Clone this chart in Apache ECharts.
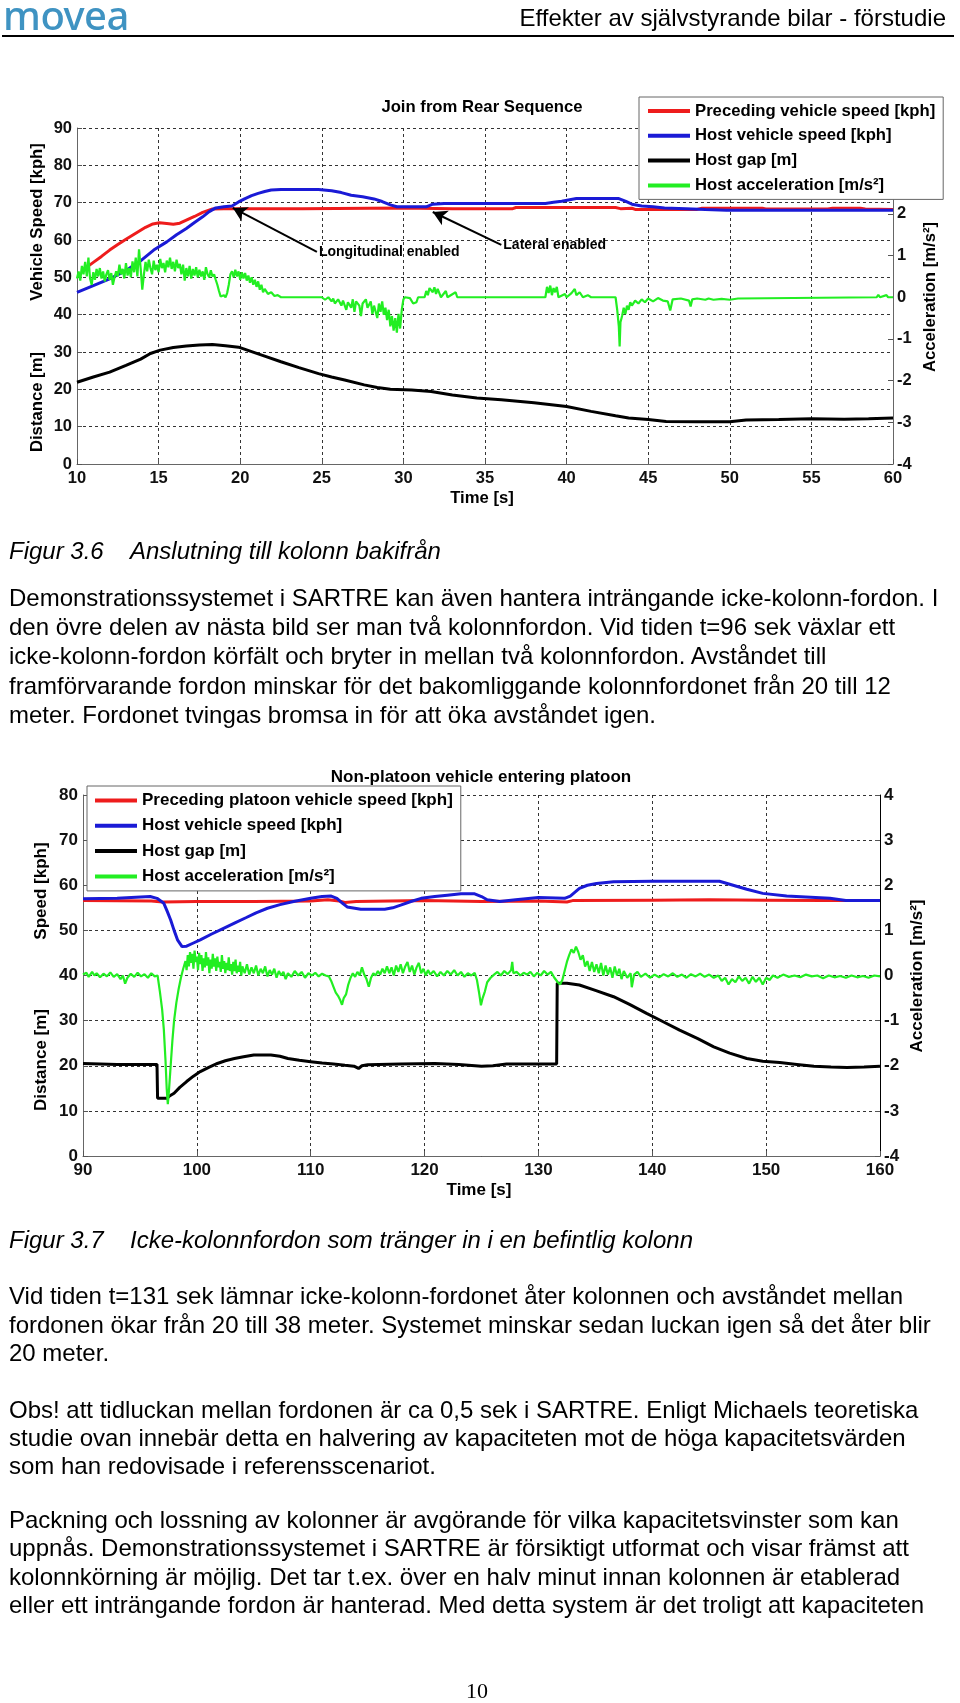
<!DOCTYPE html>
<html>
<head>
<meta charset="utf-8">
<script src="https://cdn.jsdelivr.net/npm/echarts@6/dist/echarts.min.js"></script>
<style>
html,body{margin:0;padding:0;background:#fff;}
#page{position:relative;width:960px;height:1703px;background:#fff;overflow:hidden;}
#chart{position:absolute;left:0;top:0;width:960px;height:1703px;}
.t{position:absolute;left:9px;font-family:"Liberation Sans",Arial,sans-serif;font-size:24px;line-height:28px;color:#000;white-space:nowrap;z-index:2;}
.i{font-style:italic;}
</style>
</head>
<body>
<div id="page">
<div id="chart"></div>
</div>
<script>
// ---------------- DATA ----------------
// Figure 3.6 : Join from Rear Sequence  ([time s, value])
var c1Title = 'Join from Rear Sequence';
var c1Names = ['Preceding vehicle speed [kph]', 'Host vehicle speed [kph]', 'Host gap [m]', 'Host acceleration [m/s\u00B2]'];
var c1Preceding = [[10.5,52.4],[11,54],[11.5,55.6],[12,57.3],[12.5,58.8],[13,60.2],[13.6,61.8],[14.2,63.4],[14.65,64.3],[15.05,64.6],[15.5,64.4],[15.9,64.2],[16.3,64.5],[16.7,65.3],[17.2,66.3],[17.7,67.4],[18.3,68.3],[19,68.4],[20,68.4],[23.8,68.4],[23.9,68.6],[30,68.6],[31,68.5],[33,68.4],[36.7,68.4],[36.9,68.7],[43,68.7],[43.3,68.4],[44,68.5],[44.2,68.2],[48,68.2],[48.3,68.5],[52,68.5],[52.2,68.3],[56,68.3],[56.3,68.5],[58,68.5],[58.3,68.3],[60,68.2]];
var c1HostSpeed = [[10,46],[11,47.8],[12,49.6],[13,51.8],[13.95,54.6],[14.7,57.3],[15.5,59.5],[16.1,61.4],[16.7,63.1],[17.2,64.7],[17.7,66.2],[18.1,67.6],[18.5,68.6],[19,68.9],[19.5,69.1],[19.9,70.2],[20.3,71.1],[20.7,71.9],[21.1,72.5],[21.5,73.0],[21.9,73.4],[22.5,73.5],[24.8,73.5],[25.6,73.2],[26.2,72.7],[26.8,72.0],[27.5,71.6],[28.2,71.0],[28.7,70.3],[29.2,69.4],[29.6,68.9],[31.4,68.9],[31.8,69.6],[32.5,69.8],[38.7,69.8],[39.2,70.1],[39.7,70.4],[40.6,71.1],[43.2,71.1],[43.6,70.4],[44.0,69.6],[44.6,69.1],[45.3,68.9],[46,68.6],[47.3,68.4],[48.5,68.2],[49.8,68.0],[60,68.0]];
var c1Gap = [[10,21.9],[11,23.3],[12,24.6],[13,26.4],[13.9,28.1],[14.5,29.6],[15.1,30.5],[15.9,31.2],[16.7,31.6],[17.5,31.9],[18.3,32.0],[19.1,31.7],[19.9,31.3],[20.7,30.1],[21.5,28.9],[22.5,27.4],[23.6,25.8],[24.8,24.2],[25.6,23.3],[26.4,22.5],[27.6,21.2],[28.4,20.5],[29.2,20.0],[30.5,19.8],[31.7,19.4],[33,18.5],[34.5,17.7],[36,17.2],[38,16.4],[40,15.4],[41.5,14.1],[43,12.9],[43.8,12.3],[45,11.9],[46.1,11.4],[48,11.3],[50,11.3],[51,11.8],[53,11.9],[55,12.1],[57,12.0],[58.5,12.1],[60,12.3]];
var c1Accel = [[10.0,0.45],[10.1,0.62],[10.2,0.4],[10.3,0.75],[10.4,0.55],[10.5,0.85],[10.6,0.5],[10.7,0.95],[10.8,0.45],[10.9,0.3],[11.0,0.6],[11.1,0.42],[11.2,0.68],[11.3,0.5],[11.4,0.7],[11.5,0.45],[11.6,0.62],[11.7,0.38],[11.8,0.55],[11.9,0.65],[12.0,0.42],[12.1,0.58],[12.2,0.3],[12.3,0.48],[12.4,0.62],[12.5,0.5],[12.6,0.78],[12.7,0.55],[12.8,0.68],[12.9,0.45],[13.0,0.82],[13.1,0.52],[13.2,0.7],[13.3,0.48],[13.4,0.86],[13.5,0.6],[13.6,0.95],[13.7,0.5],[13.8,1.15],[13.9,0.7],[14.0,0.18],[14.1,0.55],[14.2,0.85],[14.3,0.62],[14.4,0.9],[14.5,0.7],[14.6,0.55],[14.7,0.88],[14.8,0.65],[14.9,0.78],[15.0,0.6],[15.1,0.92],[15.2,0.7],[15.3,0.82],[15.4,0.6],[15.5,0.88],[15.6,0.72],[15.7,0.95],[15.8,0.68],[15.9,0.85],[16.0,0.62],[16.1,0.9],[16.2,0.7],[16.3,0.8],[16.4,0.55],[16.5,0.78],[16.6,0.4],[16.7,0.7],[16.8,0.5],[16.9,0.75],[17.0,0.45],[17.1,0.68],[17.2,0.52],[17.3,0.72],[17.4,0.48],[17.5,0.66],[17.6,0.5],[17.7,0.62],[17.8,0.42],[17.9,0.72],[18.0,0.55],[18.1,0.48],[18.2,0.65],[18.3,0.5],[18.4,0.55],[18.5,0.42],[18.6,0.3],[18.7,0.15],[18.8,0.02],[18.9,0.0],[19.0,0.05],[19.1,0.0],[19.2,0.1],[19.3,0.3],[19.4,0.55],[19.5,0.62],[19.6,0.48],[19.7,0.66],[19.8,0.5],[19.9,0.62],[20.0,0.42],[20.1,0.6],[20.2,0.45],[20.3,0.58],[20.4,0.4],[20.5,0.52],[20.6,0.35],[20.7,0.48],[20.8,0.3],[20.9,0.42],[21.0,0.25],[21.1,0.38],[21.2,0.18],[21.3,0.3],[21.4,0.12],[21.5,0.2],[21.7,0.08],[21.9,0.12],[22.1,0.03],[22.3,0.05],[22.5,0],[25.0,0],[25.2,-0.06],[25.4,0.0],[25.6,-0.1],[25.7,-0.03],[25.8,-0.15],[26.0,-0.05],[26.2,-0.2],[26.3,-0.08],[26.5,-0.3],[26.6,-0.12],[26.8,-0.25],[26.9,-0.05],[27.0,-0.35],[27.1,-0.1],[27.3,-0.2],[27.4,-0.45],[27.5,-0.15],[27.7,-0.05],[27.8,-0.25],[28.0,-0.1],[28.1,-0.4],[28.2,-0.2],[28.4,-0.5],[28.5,-0.15],[28.6,-0.35],[28.7,-0.1],[28.8,-0.42],[28.9,-0.25],[29.0,-0.55],[29.1,-0.3],[29.2,-0.7],[29.3,-0.45],[29.4,-0.8],[29.5,-0.5],[29.6,-0.85],[29.7,-0.4],[29.8,-0.75],[29.9,-0.3],[30.0,-0.05],[30.1,0],[30.4,-0.02],[30.6,-0.15],[30.8,-0.12],[30.9,0],[31.3,0],[31.4,0.15],[31.5,0.05],[31.6,0.22],[31.8,0.12],[31.9,0.24],[32.0,0.08],[32.1,0.2],[32.3,0.0],[32.6,0.15],[32.7,0.0],[33.2,0.12],[33.3,0.0],[38.7,0],[38.8,0.25],[38.9,0.1],[39.0,0.28],[39.1,0.05],[39.2,0.22],[39.3,0.12],[39.4,0.25],[39.5,0.0],[39.9,0.08],[40.0,0.0],[40.3,0.1],[40.5,0.2],[40.6,0.05],[40.8,0.12],[41.0,0.0],[41.3,0.05],[41.5,0.0],[43.0,0],[43.1,-0.3],[43.2,-0.7],[43.25,-1.18],[43.3,-0.6],[43.4,-0.45],[43.5,-0.25],[43.6,-0.4],[43.7,-0.2],[43.8,-0.3],[43.9,-0.12],[44.0,-0.2],[44.2,-0.08],[44.4,-0.15],[44.6,-0.05],[44.8,-0.12],[45.0,-0.03],[45.3,-0.1],[45.6,-0.02],[45.9,-0.08],[46.2,-0.1],[46.35,-0.32],[46.5,-0.05],[47.0,-0.03],[47.5,-0.08],[47.6,-0.22],[47.7,-0.05],[48.0,-0.03],[48.5,-0.06],[48.7,-0.03],[49,-0.06],[49.5,-0.04],[50.0,-0.06],[50.5,-0.03],[50.6,0],[59.0,0],[59.1,0.06],[59.2,0],[59.6,0.05],[59.7,0],[60,0]];
// annotation arrows: [text, start [t,v], tip [t,v]]
var c1Notes = [['Longitudinal enabled',[24.7,56.8],[19.55,68.6]],['Lateral enabled',[36.0,58.7],[31.8,67.5]]];

// Figure 3.7 : Non-platoon vehicle entering platoon
var c2Title = 'Non-platoon vehicle entering platoon';
var c2Names = ['Preceding platoon vehicle speed [kph]', 'Host vehicle speed [kph]', 'Host gap [m]', 'Host acceleration [m/s\u00B2]'];
var c2Preceding = [[90,56.6],[96,56.5],[97,56.3],[100,56.4],[105,56.4],[110,56.5],[111.5,56.8],[112.5,56.5],[113,56.2],[114,56.4],[120,56.6],[125,56.4],[130,56.5],[132.5,56.3],[133,56.6],[140,56.7],[145,56.8],[150,56.7],[155,56.6],[160,56.6]];
var c2HostSpeed = [[90,57.0],[93,57.1],[95.9,57.5],[96.5,57.1],[97.1,56.0],[97.4,54.2],[97.7,52.3],[98.0,50.0],[98.3,47.9],[98.7,46.4],[99.1,46.5],[99.7,47.2],[100.3,47.9],[101.3,49.2],[102.3,50.4],[103.3,51.6],[104.3,52.8],[105.2,53.9],[106.2,54.9],[107.3,55.7],[108.5,56.4],[110,57.1],[111,57.5],[111.8,57.6],[112.3,57.1],[112.8,56.0],[113.2,55.2],[114.4,54.7],[116.5,54.7],[117.2,55.0],[117.9,55.6],[118.8,56.4],[119.7,57.1],[120.9,57.5],[122,57.8],[123.2,58.1],[124.4,58.1],[125,57.5],[125.5,56.8],[126.6,56.4],[128,56.8],[130,57.3],[132.3,57.1],[132.8,57.6],[133.6,59.3],[134.3,60.0],[135.1,60.4],[136.6,60.8],[140,60.9],[145.9,60.9],[147.1,60.0],[148.3,59.1],[149.7,58.2],[151.8,57.6],[155.6,57.1],[157,56.6],[160,56.6]];
var c2Gap = [[90,20.5],[93,20.3],[96.5,20.3],[96.55,12.8],[97.4,12.8],[97.6,13.3],[98,13.9],[98.5,15.2],[99.1,16.5],[99.7,17.7],[100.3,18.7],[101,19.6],[101.8,20.5],[102.5,21.1],[103.3,21.6],[104.1,22.0],[105,22.4],[106.5,22.4],[107.3,22.1],[108,21.6],[109,21.2],[110,20.9],[111,20.6],[112,20.4],[113,20.1],[113.8,19.9],[114.2,19.4],[114.5,20.0],[115,20.2],[117.9,20.4],[120.9,20.5],[123,20.3],[125,19.9],[126,20.0],[127.2,20.4],[131.6,20.4],[131.65,38.3],[132.5,38.3],[133.6,37.9],[135,36.7],[136.6,35.3],[138,33.6],[139.5,31.6],[141,29.7],[142.4,27.9],[144,26.0],[145.4,24.2],[146.8,22.8],[148.3,21.6],[149.7,21.0],[151.2,20.7],[152.7,20.3],[154.2,19.9],[155.7,19.7],[157.1,19.6],[158.6,19.7],[160,19.9]];
var c2Accel = [[90,0.02],[90.3,0.06],[90.5,-0.03],[90.8,0.08],[91.0,0.0],[91.2,0.05],[91.5,-0.04],[91.8,0.04],[92.1,-0.02],[92.4,0.07],[92.7,-0.03],[93.0,0.03],[93.3,-0.08],[93.5,0.0],[93.7,-0.18],[93.9,-0.05],[94.2,0.04],[94.5,-0.03],[94.8,0.06],[95.1,-0.02],[95.4,0.03],[95.7,-0.05],[96.0,0.05],[96.3,-0.02],[96.55,0.0],[96.75,-0.35],[96.95,-0.75],[97.1,-1.2],[97.25,-1.9],[97.35,-2.5],[97.45,-2.85],[97.55,-2.55],[97.7,-2.0],[97.85,-1.45],[98.0,-1.0],[98.2,-0.6],[98.4,-0.3],[98.6,-0.05],[98.8,0.15],[99.0,0.32],[99.1,0.12],[99.2,0.45],[99.3,0.2],[99.4,0.52],[99.5,0.28],[99.6,0.48],[99.7,0.15],[99.8,0.55],[99.9,0.3],[100.0,0.42],[100.1,0.12],[100.2,0.5],[100.3,0.25],[100.4,0.45],[100.5,0.1],[100.6,0.38],[100.7,0.18],[100.8,0.52],[100.9,0.22],[101.0,0.4],[101.1,0.05],[101.2,0.35],[101.3,0.15],[101.4,0.48],[101.5,0.2],[101.6,0.38],[101.7,0.1],[101.8,0.42],[101.9,0.18],[102.0,0.3],[102.1,0.08],[102.2,0.45],[102.3,0.15],[102.4,0.32],[102.5,0.05],[102.6,0.28],[102.7,0.12],[102.8,0.4],[102.9,0.1],[103.0,0.25],[103.1,0.02],[103.2,0.3],[103.3,0.1],[103.4,0.35],[103.5,0.05],[103.6,0.22],[103.7,0.08],[103.8,0.3],[103.9,0.0],[104.0,0.2],[104.2,0.05],[104.4,0.25],[104.6,0.02],[104.8,0.18],[105.0,0.05],[105.2,0.22],[105.4,0.0],[105.6,0.15],[105.8,0.05],[106.0,0.2],[106.2,-0.02],[106.4,0.12],[106.6,0.02],[106.8,0.15],[107.0,-0.05],[107.2,0.1],[107.4,0.0],[107.6,0.08],[107.8,-0.08],[108.0,0.05],[108.3,-0.03],[108.6,0.1],[108.9,0.0],[109.2,0.08],[109.5,-0.05],[109.8,0.05],[110.1,0.0],[110.4,0.06],[110.7,-0.02],[111.0,0.04],[111.3,0.0],[111.6,-0.02],[111.8,-0.12],[112.0,-0.25],[112.2,-0.38],[112.4,-0.45],[112.6,-0.55],[112.75,-0.65],[112.9,-0.5],[113.1,-0.42],[113.3,-0.2],[113.5,-0.05],[113.7,0.05],[113.9,-0.03],[114.1,0.08],[114.3,0.0],[114.5,0.18],[114.7,0.02],[114.9,-0.08],[115.1,-0.25],[115.3,-0.05],[115.5,0.05],[115.7,0.0],[115.9,0.1],[116.1,0.02],[116.3,0.15],[116.5,0.05],[116.7,0.2],[116.9,0.05],[117.1,0.18],[117.3,0.0],[117.5,0.22],[117.7,0.08],[117.9,0.25],[118.1,0.05],[118.3,0.2],[118.5,0.3],[118.7,0.08],[118.9,0.22],[119.1,0.02],[119.3,0.18],[119.5,0.28],[119.7,0.05],[119.9,0.15],[120.1,0.0],[120.3,0.12],[120.5,0.02],[120.8,0.1],[121.1,-0.02],[121.4,0.08],[121.7,0.0],[122.0,0.1],[122.3,0.02],[122.6,0.12],[122.9,0.0],[123.2,0.08],[123.5,-0.03],[123.8,0.05],[124.1,0.0],[124.4,0.06],[124.6,-0.1],[124.8,-0.4],[124.95,-0.66],[125.1,-0.5],[125.3,-0.35],[125.5,-0.15],[125.8,-0.05],[126.1,0.02],[126.4,0.08],[126.7,0.0],[127.0,0.1],[127.3,0.03],[127.6,0.12],[127.7,0.3],[127.8,0.05],[128.1,0.08],[128.4,0.0],[128.7,0.06],[129.0,0.02],[129.3,0.08],[129.6,-0.02],[129.9,0.06],[130.2,0.0],[130.5,0.1],[130.8,0.02],[131.1,0.08],[131.4,-0.05],[131.7,-0.15],[131.9,-0.2],[132.1,-0.1],[132.3,0.1],[132.5,0.3],[132.7,0.45],[132.9,0.58],[133.1,0.5],[133.3,0.64],[133.5,0.52],[133.7,0.35],[133.9,0.45],[134.1,0.2],[134.3,0.32],[134.5,0.1],[134.7,0.3],[134.9,0.08],[135.1,0.25],[135.3,0.05],[135.5,0.28],[135.7,0.0],[135.9,0.22],[136.1,0.02],[136.3,0.18],[136.5,-0.05],[136.7,0.2],[136.9,0.0],[137.1,0.15],[137.3,-0.08],[137.5,0.1],[137.8,-0.05],[138.1,0.05],[138.2,-0.26],[138.4,0.02],[138.7,0.08],[139.0,-0.03],[139.4,0.04],[139.8,-0.05],[140.2,0.02],[140.6,-0.04],[141.0,0.03],[141.4,-0.02],[141.8,0.05],[142.2,-0.03],[142.6,0.02],[143.0,-0.05],[143.4,0.03],[143.8,-0.02],[144.2,0.04],[144.6,-0.03],[145.0,0.02],[145.4,-0.05],[145.8,0.0],[146.1,-0.12],[146.4,-0.05],[146.7,-0.2],[147.0,-0.08],[147.3,-0.15],[147.6,-0.02],[147.9,-0.12],[148.2,-0.05],[148.5,-0.18],[148.8,-0.03],[149.1,-0.14],[149.4,-0.05],[149.7,-0.2],[150.0,-0.05],[150.3,-0.1],[150.6,0.0],[151.0,-0.05],[151.5,0.02],[152.0,-0.03],[152.5,0.0],[153.0,-0.04],[153.5,0.02],[154.0,-0.02],[154.5,0.0],[155.0,-0.06],[155.5,0.0],[156.0,-0.04],[156.5,-0.01],[157.0,-0.05],[157.5,0.0],[158.0,-0.04],[158.5,-0.01],[159.0,-0.05],[159.5,0.0],[160,-0.02]];

// page text
var headerTitle = 'Effekter av självstyrande bilar - förstudie';
var caption1 = ['Figur 3.6', 'Anslutning till kolonn bakifrån'];
var caption2 = ['Figur 3.7', 'Icke-kolonnfordon som tränger in i en befintlig kolonn'];
var para1 = ['Demonstrationssystemet i SARTRE kan även hantera inträngande icke-kolonn-fordon. I','den övre delen av nästa bild ser man två kolonnfordon. Vid tiden t=96 sek växlar ett','icke-kolonn-fordon körfält och bryter in mellan två kolonnfordon. Avståndet till','framförvarande fordon minskar för det bakomliggande kolonnfordonet från 20 till 12','meter. Fordonet tvingas bromsa in för att öka avståndet igen.'];
var para2 = ['Vid tiden t=131 sek lämnar icke-kolonn-fordonet åter kolonnen och avståndet mellan','fordonen ökar från 20 till 38 meter. Systemet minskar sedan luckan igen så det åter blir','20 meter.'];
var para3 = ['Obs! att tidluckan mellan fordonen är ca 0,5 sek i SARTRE. Enligt Michaels teoretiska','studie ovan innebär detta en halvering av kapaciteten mot de höga kapacitetsvärden','som han redovisade i referensscenariot.'];
var para4 = ['Packning och lossning av kolonner är avgörande för vilka kapacitetsvinster som kan','uppnås. Demonstrationssystemet i SARTRE är försiktigt utformat och visar främst att','kolonnkörning är möjlig. Det tar t.ex. över en halv minut innan kolonnen är etablerad','eller ett inträngande fordon är hanterad. Med detta system är det troligt att kapaciteten'];

// ---------------- PAGE TEXT (HTML) ----------------
var page = document.getElementById('page');
function addDiv(txt, cls, css){
  var d = document.createElement('div');
  d.className = cls; d.textContent = txt; d.style.cssText = css; page.appendChild(d); return d;
}
function lines(arr, y0, step){ arr.forEach(function(s,i){ addDiv(s,'t','top:'+(y0+i*step-14)+'px;'); }); }
addDiv('movea','t','left:3px;top:-5px;font-family:"Noto Sans",sans-serif;font-weight:500;font-size:40px;line-height:40px;color:#3f93c2;letter-spacing:-0.5px;');
addDiv(headerTitle,'t','left:auto;right:14px;top:4px;');
addDiv('','t','left:2px;top:35px;width:952px;height:2px;background:#000;');
addDiv(caption1[0],'t i','top:'+(551-14)+'px;');
addDiv(caption1[1],'t i','left:130px;top:'+(551-14)+'px;');
lines(para1, 598, 29.2);
addDiv(caption2[0],'t i','top:'+(1240-14)+'px;');
addDiv(caption2[1],'t i','left:130px;top:'+(1240-14)+'px;');
lines(para2, 1296, 28.7);
lines(para3, 1410, 28.2);
lines(para4, 1520, 28.4);
addDiv('10','t','left:466px;top:'+(1691-14)+'px;font-family:"Liberation Serif","Times New Roman",serif;font-size:22px;');

// ---------------- CHARTS ----------------
var F = '"Liberation Sans", Arial, sans-serif';
var RED = '#ee1c1c', BLUE = '#1a1ad6', BLACK = '#000000', GREEN = '#22ee22';

function axisCommon(fs, fw){
  return {
    axisLine:{show:true, lineStyle:{color:'#666', width:1}},
    axisTick:{show:true, inside:true, length:5, lineStyle:{color:'#555'}},
    axisLabel:{color:'#111', fontSize:fs, fontWeight:fw, fontFamily:F, hideOverlap:false},
    splitLine:{show:true, lineStyle:{type:[3,3], color:'#333', width:1}}
  };
}
function mk(o, extra){ var r = JSON.parse(JSON.stringify(o)); for (var k in extra){ if (typeof extra[k]==='object' && r[k] && !Array.isArray(extra[k])) { for (var j in extra[k]) r[k][j]=extra[k][j]; } else r[k]=extra[k]; } return r; }

var a1 = axisCommon(16.5,'bold');
var a2 = axisCommon(17,'bold');

function lineSeries(name, data, color, width, xi, yi){
  return {name:name, type:'line', data:data, xAxisIndex:xi, yAxisIndex:yi, color:color,
    showSymbol:false, symbol:'none', lineStyle:{color:color, width:width}, silent:true, z:2};
}

var s1red = lineSeries(c1Names[0], c1Preceding, RED, 3, 0, 0);
s1red.markLine = {
  silent:true, symbol:['none','arrow'], symbolSize:[12,14], animation:false,
  lineStyle:{color:'#000', width:2, type:'solid'}, label:{show:false},
  data: c1Notes.map(function(n){ return [{coord:n[1]},{coord:n[2]}]; })
};
s1red.markPoint = {
  silent:true, animation:false,
  data: c1Notes.map(function(n){
    return {coord:n[1], symbol:'circle', symbolSize:0,
      label:{show:true, position:'right', distance:2, formatter:n[0], color:'#000',
        fontSize:14, fontWeight:'bold', fontFamily:F}};
  })
};

var option = {
  animation:false,
  backgroundColor:'transparent',
  grid:[
    {left:77, top:128, width:816, height:336, containLabel:false},
    {left:83, top:795, width:797, height:361, containLabel:false}
  ],
  xAxis:[
    mk(a1,{type:'value', gridIndex:0, min:10, max:60, interval:5, axisLabel:{margin:6}}),
    mk(a2,{type:'value', gridIndex:1, min:90, max:160, interval:10, axisLabel:{margin:6}})
  ],
  yAxis:[
    mk(a1,{type:'value', gridIndex:0, min:0, max:90, interval:10, position:'left', axisLabel:{margin:5}}),
    mk(a1,{type:'value', gridIndex:0, min:-4, max:4.06, interval:1, position:'right', splitLine:{show:false}, axisLabel:{margin:4}}),
    mk(a2,{type:'value', gridIndex:1, min:0, max:80, interval:10, position:'left', axisLabel:{margin:5}}),
    mk(a2,{type:'value', gridIndex:1, min:-4, max:4, interval:1, position:'right', splitLine:{show:false}, axisLine:{lineStyle:{color:'#000'}}, axisLabel:{margin:4}})
  ],
  legend:[
    {data:c1Names, orient:'vertical', left:639, top:97, icon:'rect', itemWidth:42, itemHeight:4, itemGap:6.8,
     padding:[5,8,5,9], backgroundColor:'#fff', borderColor:'#666', borderWidth:1, borderRadius:0, selectedMode:false, z:10,
     textStyle:{fontSize:16.7, fontWeight:'bold', fontFamily:F, color:'#000', lineHeight:18}},
    {data:c2Names, orient:'vertical', left:87, top:786, icon:'rect', itemWidth:42, itemHeight:4, itemGap:6.3,
     padding:[5,8,5,8], backgroundColor:'#fff', borderColor:'#666', borderWidth:1, borderRadius:0, selectedMode:false, z:10,
     textStyle:{fontSize:17, fontWeight:'bold', fontFamily:F, color:'#000', lineHeight:19}}
  ],
  graphic:[],
  series:[
    s1red,
    lineSeries(c1Names[1], c1HostSpeed, BLUE, 3, 0, 0),
    lineSeries(c1Names[2], c1Gap, BLACK, 3, 0, 0),
    lineSeries(c1Names[3], c1Accel, GREEN, 2.2, 0, 1),
    lineSeries(c2Names[0], c2Preceding, RED, 3, 1, 2),
    lineSeries(c2Names[1], c2HostSpeed, BLUE, 3, 1, 2),
    lineSeries(c2Names[2], c2Gap, BLACK, 3, 1, 2),
    lineSeries(c2Names[3], c2Accel, GREEN, 2.2, 1, 3)
  ]
};

function gtext(txt, x, y, size, weight, rot){
  return {type:'text', x:x, y:y, rotation:rot||0, z:20, silent:true,
    style:{text:txt, font:weight+' '+size+'px '+F, fill:'#000',
      textAlign:'center', textVerticalAlign:'middle', align:'center', verticalAlign:'middle'}};
}
var R = Math.PI/2;
option.graphic = [
  gtext(c1Title, 482, 107, 16.7, 'bold'),
  gtext('Vehicle Speed [kph]', 37, 222, 16.7, 'bold', R),
  gtext('Distance [m]', 37, 402, 16.7, 'bold', R),
  gtext('Acceleration [m/s\u00B2]', 930, 297, 16.7, 'bold', R),
  gtext('Time [s]', 482, 498, 16.7, 'bold'),
  gtext(c2Title, 481, 777, 17, 'bold'),
  gtext('Speed [kph]', 41, 891, 17, 'bold', R),
  gtext('Distance [m]', 41, 1060, 17, 'bold', R),
  gtext('Acceleration [m/s\u00B2]', 917, 976, 17, 'bold', R),
  gtext('Time [s]', 479, 1190, 17, 'bold')
];

var chart = echarts.init(document.getElementById('chart'), null, {renderer:'canvas'});
chart.setOption(option);
</script>
</body>
</html>
